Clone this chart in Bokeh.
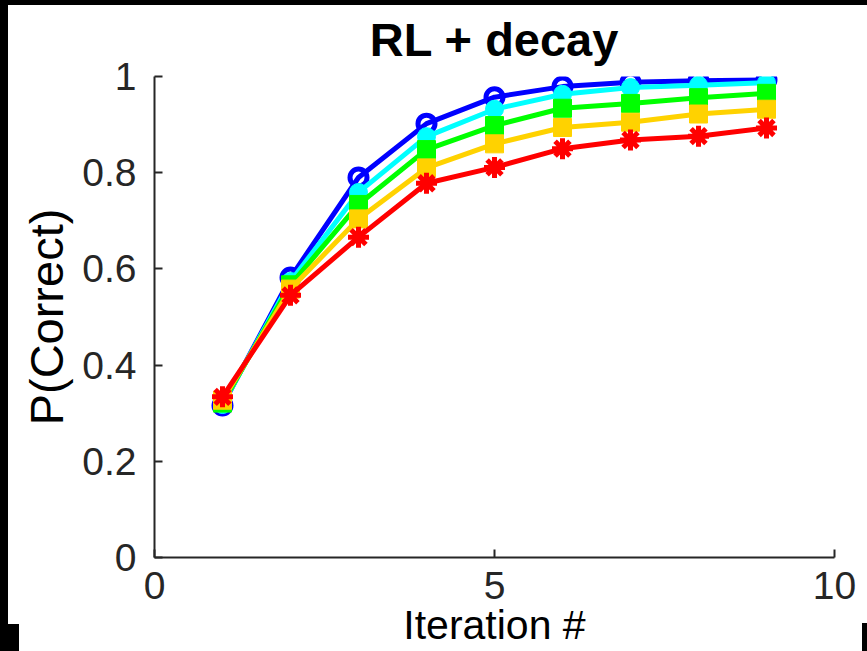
from bokeh.plotting import figure
from bokeh.models import Range1d, FixedTicker, InlineStyleSheet
from bokeh.embed import file_html
from bokeh.resources import INLINE

iterations = [1, 2, 3, 4, 5, 6, 7, 8, 9]
blue_vals = [0.316, 0.582, 0.790, 0.902, 0.957, 0.979, 0.988, 0.991, 0.993]
cyan_vals = [0.318, 0.574, 0.759, 0.875, 0.932, 0.963, 0.977, 0.982, 0.987]
green_vals = [0.321, 0.567, 0.734, 0.848, 0.898, 0.934, 0.944, 0.956, 0.965]
yellow_vals = [0.327, 0.558, 0.704, 0.810, 0.860, 0.894, 0.905, 0.922, 0.932]
red_vals = [0.334, 0.545, 0.666, 0.778, 0.811, 0.850, 0.868, 0.876, 0.893]

x_ticks = [0, 5, 10]
y_ticks = [0, 0.2, 0.4, 0.6, 0.8, 1.0]
title_text = "RL + decay"
x_label = "Iteration #"
y_label = "P(Correct)"

W, H = 867, 651
frame_css = InlineStyleSheet(css="""
:host::after {
  content: "";
  position: absolute;
  left: 0; top: 0; width: 867px; height: 651px;
  pointer-events: none;
  z-index: 1000;
  background:
    linear-gradient(#000, #000) 0px 0px / 8px 651px no-repeat,
    linear-gradient(#000, #000) 0px 0px / 867px 5px no-repeat,
    linear-gradient(#000, #000) 0px 624px / 19px 27px no-repeat,
    linear-gradient(#000, #000) 862px 623px / 5px 28px no-repeat;
}
""")

p = figure(width=W, height=H, output_backend="svg", toolbar_location=None,
           x_range=Range1d(0, 10), y_range=Range1d(0, 1),
           stylesheets=[frame_css])
p.min_border_left = 154
p.min_border_right = 33
p.min_border_top = 76
p.min_border_bottom = 94
p.outline_line_color = None
p.grid.visible = False
p.background_fill_color = "white"
p.border_fill_color = "white"

p.title.text = title_text
p.title.align = "center"
p.title.text_font = "Liberation Sans"
p.title.text_font_size = "47px"
p.title.text_font_style = "bold"
p.title.text_color = "black"
p.title.standoff = 21

axis_color = "#262626"
for ax in (p.xaxis[0], p.yaxis[0]):
    ax.axis_line_color = axis_color
    ax.axis_line_width = 2
    ax.major_tick_line_color = axis_color
    ax.major_tick_line_width = 2
    ax.major_tick_in = 8
    ax.major_tick_out = 0
    ax.minor_tick_line_color = None
    ax.major_label_text_font = "Liberation Sans"
    ax.major_label_text_font_size = "39px"
    ax.major_label_text_color = axis_color
    ax.axis_label_text_color = "black"
    ax.axis_label_text_font_style = "normal"

p.xaxis[0].ticker = FixedTicker(ticks=x_ticks)
p.yaxis[0].ticker = FixedTicker(ticks=y_ticks)
p.yaxis[0].major_label_overrides = {0: "0", 1: "1"}
p.xaxis[0].major_label_standoff = 14
p.yaxis[0].major_label_standoff = 18

p.yaxis[0].axis_label = y_label
p.yaxis[0].axis_label_text_font = "Liberation Sans"
p.yaxis[0].axis_label_text_font_size = "47px"
p.yaxis[0].axis_label_standoff = 6

p.xaxis[0].axis_label = x_label
p.xaxis[0].axis_label_text_font = "Liberation Sans"
p.xaxis[0].axis_label_text_font_size = "41px"
p.xaxis[0].axis_label_standoff = 0

series = [
    (blue_vals, "#0000FF", "circle"),
    (cyan_vals, "#00FFFF", "circle_filled"),
    (green_vals, "#00FF00", "square"),
    (yellow_vals, "#FFD200", "square"),
    (red_vals, "#FF0000", "asterisk"),
]
for vals, col, mk in series:
    p.line(iterations, vals, line_color=col, line_width=5)
    if mk == "circle":
        p.scatter(iterations, vals, marker="circle", size=17, fill_color=None,
                  line_color=col, line_width=5)
    elif mk == "circle_filled":
        p.scatter(iterations, vals, marker="circle", size=18, fill_color=col,
                  line_color=col, line_width=1)
    elif mk == "square":
        p.scatter(iterations, vals, marker="square", size=18, fill_color=col,
                  line_color=col, line_width=1)
    else:
        p.scatter(iterations, vals, marker="asterisk", size=21,
                  line_color=col, line_width=5)

open("out.html", "w").write(file_html(p, INLINE))
